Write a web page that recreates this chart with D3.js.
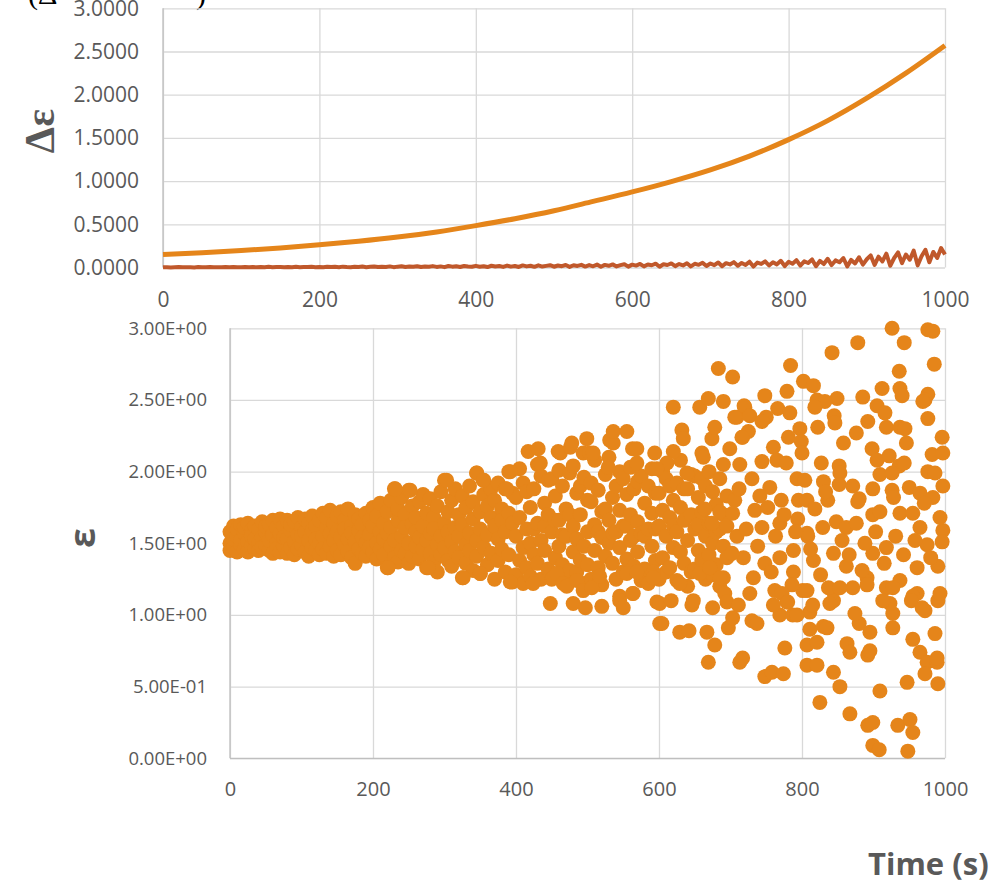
<!DOCTYPE html>
<html>
<head>
<meta charset="utf-8">
<script src="https://cdn.jsdelivr.net/npm/d3@7"></script>
<style>
body { margin: 0; background: #fff; }
text { font-family: "Open Sans", sans-serif; fill: #595959; }
</style>
</head>
<body>
<svg id="chart" width="997" height="882"></svg>
<script>
// ---- data ----
var xTicks = [0, 200, 400, 600, 800, 1000];
var topYTicks = [0, 0.5, 1, 1.5, 2, 2.5, 3];
var botYTicks = [0, 0.5, 1, 1.5, 2, 2.5, 3];

// top panel, orange curve (time, value)
var orangeT = [0,50,100,150,200,250,300,350,400,450,500,550,600,650,700,750,800,850,900,950,1000];
var orangeV = [0.150,0.172,0.197,0.227,0.262,0.303,0.352,0.412,0.485,0.565,0.657,0.765,0.875,0.995,1.130,1.290,1.480,1.700,1.960,2.250,2.570];

// top panel, noisy red curve, one value every 5 s
var redStep = 5;
var redV = [
 0.002,0.004,0.001,0.003,0.005,0.002,0.004,0.003,0.001,0.005,0.003,0.002,0.006,0.003,0.004,0.002,0.005,0.003,0.006,0.002,
 0.004,0.007,0.003,0.005,0.002,0.006,0.004,0.008,0.003,0.005,0.007,0.002,0.006,0.004,0.008,0.003,0.006,0.005,0.009,0.004,
 0.007,0.003,0.009,0.005,0.008,0.004,0.010,0.006,0.003,0.009,0.006,0.011,0.004,0.008,0.012,0.005,0.009,0.007,0.013,0.004,
 0.010,0.014,0.006,0.011,0.008,0.015,0.005,0.012,0.009,0.016,0.007,0.013,0.004,0.017,0.010,0.014,0.006,0.018,0.011,0.008,
 0.019,0.009,0.015,0.005,0.020,0.012,0.017,0.007,0.022,0.010,0.018,0.006,0.024,0.013,0.020,0.008,0.025,0.011,0.019,0.027,
 0.009,0.023,0.015,0.029,0.007,0.026,0.018,0.031,0.011,0.028,0.014,0.034,0.008,0.030,0.020,0.036,0.012,0.027,0.038,0.010,
 0.033,0.022,0.041,0.013,0.035,0.026,0.044,0.009,0.038,0.029,0.047,0.016,0.040,0.024,0.050,0.012,0.043,0.031,0.054,0.018,
 0.046,0.027,0.058,0.014,0.050,0.035,0.062,0.020,0.053,0.030,0.067,0.011,0.057,0.041,0.072,0.023,0.060,0.036,0.078,0.017,
 0.066,0.044,0.085,0.021,0.071,0.052,0.093,0.015,0.076,0.040,0.101,0.028,0.082,0.060,0.110,0.012,0.088,0.047,0.118,0.033,
 0.095,0.140,0.030,0.125,0.070,0.160,0.020,0.110,0.175,0.050,0.150,0.090,0.195,0.025,0.130,0.205,0.060,0.180,0.110,0.225,
 0.150
];

// bottom panel: dense band 0-400 s, rows of [time, eps, eps, eps]
var bandRows = [
 [0,1.50,1.58,1.45],[5,1.62,1.47,1.53],[10,1.55,1.44,1.60],[15,1.49,1.63,1.52],[20,1.57,1.46,1.61],
 [25,1.51,1.64,1.44],[30,1.59,1.48,1.55],[35,1.46,1.62,1.53],[40,1.60,1.50,1.45],[45,1.54,1.65,1.47],
 [50,1.49,1.58,1.62],[55,1.63,1.45,1.52],[60,1.56,1.43,1.66],[65,1.50,1.61,1.46],[70,1.44,1.57,1.67],
 [75,1.62,1.48,1.54],[80,1.53,1.66,1.43],[85,1.47,1.59,1.63],[90,1.65,1.51,1.42],[95,1.56,1.68,1.46],
 [100,1.49,1.61,1.55],[105,1.67,1.44,1.58],[110,1.52,1.64,1.41],[115,1.59,1.47,1.69],[120,1.45,1.62,1.53],
 [125,1.66,1.50,1.42],[130,1.55,1.71,1.46],[135,1.61,1.43,1.68],[140,1.48,1.57,1.73],[145,1.64,1.41,1.52],
 [150,1.58,1.69,1.45],[155,1.42,1.54,1.72],[160,1.66,1.49,1.60],[165,1.53,1.74,1.44],[170,1.62,1.40,1.57],
 [175,1.36,1.70,1.51],[180,1.59,1.46,1.67],[185,1.43,1.63,1.54],[190,1.71,1.50,1.41],[195,1.56,1.66,1.47],
 [200,1.62,1.44,1.75],[205,1.50,1.69,1.39],[210,1.58,1.78,1.46],[215,1.42,1.64,1.53],[220,1.33,1.72,1.57],
 [225,1.61,1.48,1.80],[230,1.88,1.52,1.40],[235,1.66,1.37,1.74],[240,1.55,1.82,1.45],[245,1.70,1.43,1.61],
 [250,1.87,1.50,1.36],[255,1.63,1.76,1.41],[260,1.48,1.68,1.58],[265,1.79,1.39,1.54],[270,1.62,1.46,1.84],
 [275,1.33,1.71,1.52],[280,1.57,1.81,1.43],[285,1.68,1.37,1.60],[290,1.49,1.76,1.30],[295,1.86,1.55,1.42],
 [300,1.64,1.94,1.47],[305,1.38,1.72,1.58],[310,1.80,1.51,1.34],[315,1.61,1.88,1.44],[320,1.70,1.40,1.55],
 [325,1.26,1.83,1.63],[330,1.49,1.75,1.36],[335,1.90,1.57,1.45],[340,1.67,1.31,1.79],[345,1.99,1.52,1.41],
 [350,1.29,1.72,1.60],[355,1.94,1.47,1.84],[360,1.56,1.35,1.76],[365,1.68,1.88,1.43],[370,1.25,1.62,1.80],
 [375,1.53,1.92,1.38],[380,1.74,1.46,1.66],[385,1.88,1.30,1.58],[390,2.00,1.42,1.71],[395,1.23,1.64,1.85]
];

// bottom panel: 400-700 s, rows of [time, eps, eps, eps]
var midRows = [
 [400,1.55,1.82,1.28],[405,1.38,1.68,2.02],[410,1.92,1.47,1.22],[415,1.60,1.33,1.86],[420,1.75,1.50,1.27],
 [425,1.42,1.88,1.60],[430,1.64,1.36,2.05],[435,1.97,1.52,1.25],[440,1.45,1.78,1.62],[445,1.70,1.32,1.94],
 [450,1.58,1.95,1.25],[455,1.40,1.83,1.66],[460,1.66,1.48,2.01],[465,1.90,1.35,1.56],[470,1.55,1.74,1.23],
 [475,1.31,1.99,1.70],[480,1.62,1.44,2.04],[485,1.85,1.53,1.30],[490,1.38,1.70,1.90],[495,1.96,1.48,1.22],
 [500,1.58,1.35,1.80],[505,1.79,1.92,1.25],[510,1.45,1.63,2.08],[515,1.87,1.33,1.58],[520,1.54,1.72,1.21],
 [525,1.41,1.98,1.74],[530,1.66,1.50,2.10],[535,1.36,1.82,1.57],[540,1.90,1.58,1.25],[545,1.47,1.73,2.00],
 [550,1.62,1.95,1.30],[555,1.39,1.84,1.62],[560,1.70,1.52,2.03],[565,1.88,1.34,1.55],[570,1.44,1.65,1.93],
 [575,1.97,1.57,1.24],[580,1.32,1.78,1.55],[585,1.60,1.90,1.22],[590,1.48,1.71,2.02],[595,1.85,1.38,1.60],
 [600,1.62,1.85,1.25],[605,1.40,1.73,2.00],[610,1.95,1.55,1.30],[615,1.33,1.68,1.90],[620,1.80,1.47,1.62],
 [625,1.58,1.92,1.24],[630,1.44,1.75,2.08],[635,1.66,1.36,1.88],[640,1.88,1.52,1.20],[645,1.30,1.70,1.98],
 [650,1.60,1.97,1.32],[655,1.45,1.82,1.63],[660,1.72,1.38,1.95],[665,1.55,1.90,1.25],[670,1.42,1.64,2.00],
 [675,1.86,1.50,1.28],[680,1.35,1.77,1.58],[685,1.60,1.95,1.20],[690,1.48,1.70,2.05],[695,1.83,1.40,1.62]
];

// bottom panel: single points [time, eps]
var edgePts = [
 [387,1.88],[392,1.23],[231,1.88],[252,1.87],[303,1.94],[345,1.99],[354,1.94],[221,1.33],[277,1.33],[326,1.26],[350,1.29],
 [392,2.00],[417,2.14],[431,2.16],[434,2.06],[459,2.14],[462,2.13],[476,2.17],[478,2.20],[494,2.13],[499,2.23],[503,2.13],
 [508,2.13],[529,2.03],[531,2.22],[536,2.20],[536,2.28],[555,2.28],[563,2.16],[569,2.06],[569,2.16],[594,2.13],
 [424,1.22],[448,1.08],[452,1.26],[457,1.29],[466,1.22],[471,1.20],[480,1.08],[485,1.24],[494,1.17],[497,1.05],[506,1.19],
 [517,1.27],[520,1.06],[545,1.13],[545,1.10],[550,1.05],[555,1.29],[563,1.15],[564,1.15],[569,1.30],[592,1.30],[592,1.26],
 [597,1.09],[601,0.94],[601,1.08],
 [620,2.45],[632,2.29],[634,2.23],[620,2.14],[657,2.45],[660,2.13],[669,2.51],[674,2.23],[678,2.31],[683,2.72],[690,2.49],
 [699,2.16],[703,2.66],[709,2.38],[713,2.05],[717,2.24],[720,2.45],[611,2.06],[597,2.02],[639,1.99],[662,2.10],[629,1.22],
 [657,1.29],[690,1.26]
];

// bottom panel: 700-1000 s, sparse points [time, eps]
var latePts = [
 [926,3.00],[976,2.99],[983,2.98],[878,2.90],[842,2.83],[943,2.90],[784,2.74],[985,2.75],[936,2.70],[802,2.63],[816,2.60],
 [779,2.56],[748,2.53],[912,2.58],[937,2.58],[940,2.53],[976,2.54],[972,2.50],[885,2.52],[849,2.51],[821,2.50],[832,2.49],
 [818,2.45],[719,2.46],[766,2.44],[905,2.46],[969,2.49],[706,2.38],[727,2.39],[750,2.38],[783,2.41],[845,2.39],[916,2.41],
 [976,2.37],[892,2.35],[725,2.28],[744,2.35],[797,2.30],[822,2.31],[846,2.34],[918,2.31],[937,2.31],[944,2.30],[716,2.24],
 [781,2.24],[799,2.21],[876,2.27],[858,2.20],[946,2.20],[996,2.24],[760,2.17],[800,2.13],[898,2.16],[905,2.08],[922,2.11],
 [982,2.12],[997,2.13],[744,2.07],[765,2.08],[778,2.06],[827,2.06],[852,2.04],[936,2.04],[943,2.06],[976,2.00],[986,1.99],
 [730,1.95],[755,1.89],[793,1.95],[804,1.94],[830,1.93],[853,1.99],[852,1.91],[909,1.98],[926,1.99],[950,1.89],[965,1.85],
 [997,1.90],[899,1.88],[926,1.87],[928,1.82],[983,1.82],[880,1.81],[836,1.80],[771,1.80],[795,1.80],[807,1.80],[706,1.80],
 [664,1.74],[685,1.72],[703,1.71],[734,1.73],[752,1.75],[674,1.64],[709,1.55],[744,1.61],[769,1.64],[794,1.67],[808,1.55],
 [829,1.61],[848,1.65],[862,1.61],[876,1.64],[878,1.79],[899,1.70],[909,1.72],[937,1.71],[955,1.71],[965,1.61],[997,1.59],
 [996,1.51],[975,1.49],[990,1.34],[961,1.33],[937,1.24],[918,1.47],[899,1.43],[888,1.50],[862,1.34],[844,1.43],[816,1.38],
 [807,1.57],[788,1.45],[769,1.40],[748,1.36],[732,1.26],[718,1.40],[702,1.43],[685,1.26],[671,1.33],[788,1.30],[762,1.17],
 [801,1.17],[843,1.17],[871,1.19],[891,1.26],[918,1.19],[961,1.15],
 [712,1.88],[722,1.60],[738,1.48],[741,1.83],[757,1.30],[763,1.55],[775,1.70],[786,1.21],[791,1.58],[812,1.46],[818,1.74],
 [826,1.28],[833,1.86],[856,1.52],[866,1.42],[871,1.90],[884,1.31],[903,1.58],[915,1.36],[931,1.55],[942,1.42],[958,1.52],
 [971,1.78],[980,1.40],[993,1.68],
 [604,0.94],[629,0.88],[642,0.89],[667,0.88],[678,0.79],[669,0.67],[713,0.67],[717,0.70],[697,0.91],[703,0.98],[730,0.96],
 [737,0.94],[748,0.57],[758,0.60],[774,0.59],[776,0.77],[769,1.00],[787,1.00],[779,1.09],[760,1.07],[807,1.17],[811,1.02],
 [811,0.90],[807,0.79],[821,0.81],[830,0.92],[835,0.91],[807,0.65],[821,0.65],[844,0.60],[853,0.50],[825,0.39],[867,0.31],
 [892,0.23],[899,0.25],[899,0.09],[908,0.06],[934,0.23],[951,0.27],[955,0.18],[948,0.05],[947,0.53],[909,0.47],[863,0.80],
 [867,0.74],[895,0.88],[892,0.72],[895,0.75],[880,0.94],[874,1.01],[927,0.91],[927,1.01],[923,1.08],[913,1.10],[955,0.83],
 [965,0.74],[975,0.67],[972,0.59],[989,0.67],[989,0.70],[990,0.52],[986,0.87],[955,1.13],[972,1.03],[990,1.10],[993,1.15],
 [844,1.10],[839,1.08],[815,1.07],[617,1.10],[646,1.07],[648,1.10],[675,1.05],[692,1.15],[695,1.09],[711,1.07],[727,1.15],
 [772,1.15],[780,1.09],[793,1.00],[837,1.19],[853,1.19],[891,1.21],[927,1.19],[953,1.10],[968,1.05]
];

var orange = "#E5851A", red = "#C0582B", grid = "#d9d9d9", axisCol = "#bfbfbf";

var svg = d3.select("#chart");
svg.append("rect").attr("width", 997).attr("height", 882).attr("fill", "#fff");

// fragment of a caption that sits just above the figure
svg.append("text").attr("x", 28).attr("y", 4)
  .style("font-family", "'Liberation Serif', serif").style("font-size", "30px").style("fill", "#000")
  .text("(Δ");
svg.append("text").attr("x", 196).attr("y", 4)
  .style("font-family", "'Liberation Serif', serif").style("font-size", "30px").style("fill", "#000")
  .text(")");

// ---------- top panel ----------
var xTop = d3.scaleLinear().domain([0, 1000]).range([163, 945]);
var yTop = d3.scaleLinear().domain([0, 3]).range([267.5, 8.3]);

var gTop = svg.append("g");
gTop.append("g")
  .attr("transform", "translate(163,0)")
  .call(d3.axisLeft(yTop).tickValues(topYTicks).tickSize(-(945 - 163)).tickFormat(""))
  .call(function (g) { g.select(".domain").remove(); g.selectAll("line").attr("stroke", grid).attr("stroke-width", 1.3); });
gTop.append("g")
  .attr("transform", "translate(0,267.5)")
  .call(d3.axisBottom(xTop).tickValues(xTicks).tickSize(-(267.5 - 8.3)).tickFormat(""))
  .call(function (g) { g.select(".domain").remove(); g.selectAll("line").attr("stroke", grid).attr("stroke-width", 1.3); });

gTop.append("line").attr("x1", 163).attr("x2", 163).attr("y1", 8.3).attr("y2", 267.5)
  .attr("stroke", axisCol).attr("stroke-width", 1.3);

gTop.append("g")
  .attr("transform", "translate(163,0)")
  .call(d3.axisLeft(yTop).tickValues(topYTicks).tickSize(0).tickPadding(24).tickFormat(d3.format(".4f")))
  .call(function (g) { g.select(".domain").remove(); })
  .selectAll("text").style("font-size", "21px").attr("fill", "#595959");

gTop.append("g")
  .attr("transform", "translate(0,267.5)")
  .call(d3.axisBottom(xTop).tickValues(xTicks).tickSize(0).tickPadding(25).tickFormat(d3.format("d")))
  .call(function (g) { g.select(".domain").remove(); })
  .selectAll("text").style("font-size", "21px").attr("fill", "#595959");

var orangeData = orangeT.map(function (t, i) { return [t, orangeV[i]]; });
var redData = redV.map(function (v, i) { return [i * redStep, v]; });

var lineTop = d3.line()
  .x(function (d) { return xTop(d[0]); })
  .y(function (d) { return yTop(d[1]); });

gTop.append("path").datum(orangeData).attr("d", lineTop.curve(d3.curveMonotoneX))
  .attr("fill", "none").attr("stroke", orange).attr("stroke-width", 5).attr("stroke-linejoin", "round");
gTop.append("path").datum(redData).attr("d", lineTop.curve(d3.curveLinear))
  .attr("fill", "none").attr("stroke", red).attr("stroke-width", 4).attr("stroke-linejoin", "round");

svg.append("text")
  .attr("transform", "translate(54,131) rotate(-90)")
  .attr("text-anchor", "middle")
  .style("font-family", "'Liberation Serif', serif").style("font-size", "42px").style("font-weight", "bold")
  .text("Δε");

// ---------- bottom panel ----------
var xBot = d3.scaleLinear().domain([0, 1000]).range([230, 945]);
var yBot = d3.scaleLinear().domain([0, 3]).range([758.3, 328.3]);

var gBot = svg.append("g");
gBot.append("g")
  .attr("transform", "translate(230,0)")
  .call(d3.axisLeft(yBot).tickValues(botYTicks).tickSize(-(945 - 230)).tickFormat(""))
  .call(function (g) { g.select(".domain").remove(); g.selectAll("line").attr("stroke", grid).attr("stroke-width", 1.3); });
gBot.append("g")
  .attr("transform", "translate(0,758.3)")
  .call(d3.axisBottom(xBot).tickValues(xTicks).tickSize(-(758.3 - 328.3)).tickFormat(""))
  .call(function (g) { g.select(".domain").remove(); g.selectAll("line").attr("stroke", grid).attr("stroke-width", 1.3); });

gBot.append("line").attr("x1", 230).attr("x2", 230).attr("y1", 328.3).attr("y2", 758.3)
  .attr("stroke", axisCol).attr("stroke-width", 1.3);
gBot.append("line").attr("x1", 230).attr("x2", 945).attr("y1", 758.3).attr("y2", 758.3)
  .attr("stroke", axisCol).attr("stroke-width", 1.3);

function sciFmt(d) {
  if (d === 0) return "0.00E+00";
  var e = Math.floor(Math.log10(Math.abs(d)) + 1e-9);
  var m = d / Math.pow(10, e);
  return m.toFixed(2) + "E" + (e < 0 ? "-" : "+") + String(Math.abs(e)).padStart(2, "0");
}

gBot.append("g")
  .attr("transform", "translate(230,0)")
  .call(d3.axisLeft(yBot).tickValues(botYTicks).tickSize(0).tickPadding(23).tickFormat(sciFmt))
  .call(function (g) { g.select(".domain").remove(); })
  .selectAll("text").style("font-size", "18.5px").attr("fill", "#595959");

gBot.append("g")
  .attr("transform", "translate(0,758.3)")
  .call(d3.axisBottom(xBot).tickValues(xTicks).tickSize(0).tickPadding(24).tickFormat(d3.format("d")))
  .call(function (g) { g.select(".domain").remove(); })
  .selectAll("text").style("font-size", "20px").attr("fill", "#595959");

var scatter = [];
bandRows.forEach(function (r) { for (var k = 1; k < r.length; k++) scatter.push([r[0], r[k]]); });
midRows.forEach(function (r) { for (var k = 1; k < r.length; k++) scatter.push([r[0], r[k]]); });
edgePts.forEach(function (p) { scatter.push(p); });
latePts.forEach(function (p) { scatter.push(p); });

gBot.append("g").selectAll("circle")
  .data(scatter)
  .enter().append("circle")
  .attr("cx", function (d) { return xBot(d[0]); })
  .attr("cy", function (d) { return yBot(d[1]); })
  .attr("r", 7.5)
  .attr("fill", orange);

svg.append("text")
  .attr("transform", "translate(95,538) rotate(-90)")
  .attr("text-anchor", "middle")
  .style("font-size", "36px").style("font-weight", "bold")
  .text("ε");

svg.append("text")
  .attr("x", 868).attr("y", 875)
  .style("font-size", "31px").style("font-weight", "bold")
  .text("Time (s)");
</script>
</body>
</html>
